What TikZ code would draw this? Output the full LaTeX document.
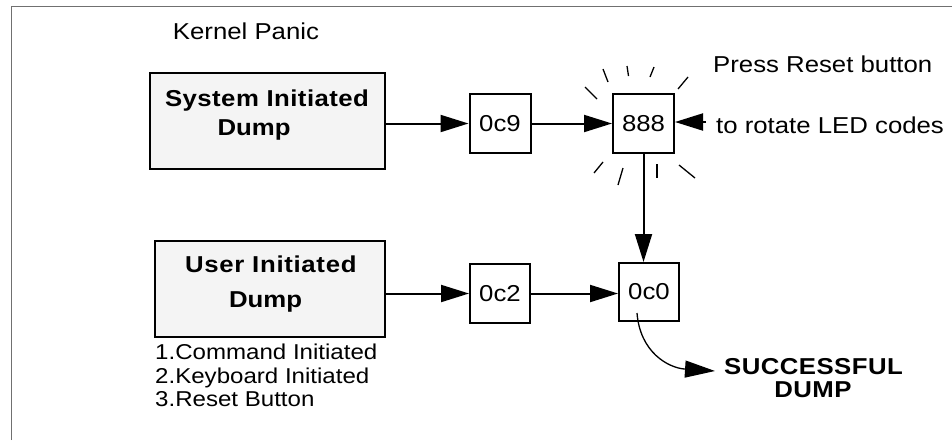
\documentclass[tikz,border=0pt]{standalone}
\usepackage{fontspec}
\setmainfont{Liberation Sans}[FakeStretch=1.12]
\usetikzlibrary{arrows.meta}
\definecolor{boxfill}{HTML}{F4F4F4}
\definecolor{framec}{HTML}{707070}
\begin{document}
\begin{tikzpicture}[x=1pt,y=-1pt,
  txt/.style={inner sep=0pt, anchor=base, font=\fontsize{23}{24}\selectfont},
  ltxt/.style={inner sep=0pt, anchor=base west, font=\fontsize{21.5}{24}\selectfont},
  btxt/.style={inner sep=0pt, anchor=base, font=\fontsize{23}{24}\selectfont\bfseries},
  bigbox/.style={draw, line width=2pt, fill=boxfill, inner sep=0pt},
  ledbox/.style={draw, line width=2pt, fill=white, inner sep=0pt, font=\fontsize{23}{24}\selectfont},
  arr/.style={line width=2pt, -{Triangle[length=28pt,width=17pt]}},
  ray/.style={line width=1.3pt}]
\useasboundingbox (0,0) rectangle (952,440);
% frame
\draw[framec, line width=1.5pt] (11.5,440) -- (11.5,6.5) -- (952,6.5);
% texts
\node[txt] (kp) at (246,39.3) {Kernel Panic};
\node[txt, anchor=base west] (pr) at (713,72.7) {Press Reset button};
\node[txt, anchor=base west] (rl) at (716,133.3) {to rotate LED codes};
% big boxes
\node[bigbox, minimum width=235pt, minimum height=96pt] (sys) at (267.5,121) {};
\node[btxt] (sys1) at (267,106.7) {\addfontfeature{LetterSpace=2}System Initiated};
\node[btxt] (sys2) at (254,135) {Dump};
\node[bigbox, minimum width=230pt, minimum height=96pt] (user) at (270,289) {};
\node[btxt] (user1) at (270.8,272.3) {\addfontfeature{LetterSpace=3}User Initiated};
\node[btxt] (user2) at (265.5,307.3) {Dump};
\node[ltxt] (li1) at (155,359.3) {1.Command Initiated};
\node[ltxt] (li2) at (155,383) {2.Keyboard Initiated};
\node[ltxt] (li3) at (155,406.7) {3.Reset Button};
% LED boxes
\node[ledbox, minimum width=61pt, minimum height=59pt] (c9) at (500,123.5) {0c9};
\node[ledbox, minimum width=61pt, minimum height=59pt] (l888) at (643.5,123.5) {888};
\node[ledbox, minimum width=60pt, minimum height=59pt] (c2) at (500,293.5) {0c2};
\node[ledbox, minimum width=60pt, minimum height=58pt] (c0) at (649,292) {0c0};
% result text
\node[btxt] (succ1) at (813.5,374) {\addfontfeature{LetterSpace=2}SUCCESSFUL};
\node[btxt] (succ2) at (813,397.3) {\addfontfeature{LetterSpace=2}DUMP};
% arrows
\draw[arr] (sys.east |- c9.center) -- (c9.west);
\draw[arr] (c9.east) -- (l888.west);
\draw[arr] (l888.south) -- (l888.south |- c0.north);
\draw[arr] (user.east |- c2.center) -- (c2.west);
\draw[arr] (c2.east) -- (c2.east -| c0.west);
\coordinate (rs) at (706,122);
\draw[arr] (rs) -- (rs -| l888.east);
\coordinate (cs) at (637,313);
\coordinate (ct) at (715,371);
\draw[line width=1.3pt, -{Triangle[length=30pt,width=17pt]}] (cs) .. controls (640,352) and (668,368) .. (ct);
% rays
\draw[ray] (585,87) -- (597,99);
\draw[ray] (603,69) -- (608,82);
\draw[ray] (627,66) -- (628.5,76);
\draw[ray] (654,67) -- (650,77);
\draw[ray] (688,77) -- (678,89);
\draw[ray] (603,162) -- (594,173);
\draw[ray] (623,168) -- (618,185);
\draw[ray] (657,164) -- (657,178);
\draw[ray] (679,165) -- (695,178);
\end{tikzpicture}
\end{document}
